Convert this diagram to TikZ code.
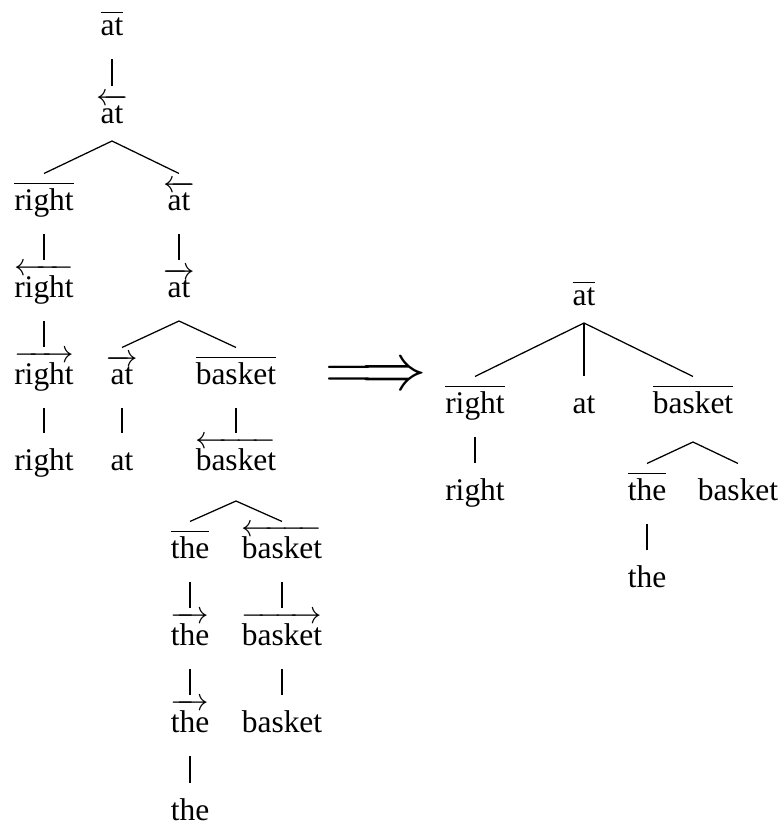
\documentclass[tikz,border=0pt]{standalone}
\usepackage{amsmath}
\usepackage[no-math]{fontspec}
\setmainfont{Liberation Serif}[Ligatures=TeX]
\usepackage{tikz}
\usetikzlibrary{calc}

\begin{document}
\begin{tikzpicture}[x=0.3175pt, y=-0.3175pt,
    word/.style={anchor=base, inner sep=2pt, text height=9.4pt, text depth=5.46pt,
      font=\rmfamily}]
  \useasboundingbox (0,0) rectangle (782,824);

  % linker Baum
  \node[word] (at0) at (112,35) {$\overline{\mbox{at}}$};
  \node[word] (at1) at (112,123) {$\overleftarrow{\mbox{at}}$};
  \node[word] (right1) at (44,210) {$\overline{\mbox{right}}$};
  \node[word] (at2) at (179,210) {$\overleftarrow{\mbox{at}}$};
  \node[word] (right2) at (44,297) {$\overleftarrow{\mbox{right}}$};
  \node[word] (at3) at (179,297) {$\overrightarrow{\mbox{at}}$};
  \node[word] (right3) at (44,384) {$\overrightarrow{\mbox{right}}$};
  \node[word] (at4) at (122,384) {$\overrightarrow{\mbox{at}}$};
  \node[word] (basket1) at (236,384) {$\overline{\mbox{basket}}$};
  \node[word] (right4) at (44,470) {right};
  \node[word] (at5) at (122,470) {at};
  \node[word] (basket2) at (236,470) {$\overleftarrow{\mbox{basket}}$};
  \node[word] (the1) at (190,558) {$\overline{\mbox{the}}$};
  \node[word] (basket3) at (282,558) {$\overleftarrow{\mbox{basket}}$};
  \node[word] (the2) at (190,645) {$\overrightarrow{\mbox{the}}$};
  \node[word] (basket4) at (282,645) {$\overrightarrow{\mbox{basket}}$};
  \node[word] (the3) at (190,732) {$\overrightarrow{\mbox{the}}$};
  \node[word] (basket5) at (282,732) {basket};
  \node[word] (the4) at (190,820) {the};

  \coordinate (j1) at (112,141);
  \coordinate (j2) at (179,321);
  \coordinate (j3) at (236,501);

  \draw (at0.south) -- (at1.north);
  \draw (right1.north) -- (j1) -- (at2.north);
  \draw (right1.south) -- (right2.north);
  \draw (at2.south) -- (at3.north);
  \draw (right2.south) -- (right3.north);
  \draw (at4.north) -- (j2) -- (basket1.north);
  \draw (right3.south) -- (right4.north);
  \draw (at4.south) -- (at5.north);
  \draw (basket1.south) -- (basket2.north);
  \draw (the1.north) -- (j3) -- (basket3.north);
  \draw (the1.south) -- (the2.north);
  \draw (basket3.south) -- (basket4.north);
  \draw (the2.south) -- (the3.north);
  \draw (basket4.south) -- (basket5.north);
  \draw (the3.south) -- (the4.north);

  % Pfeil
  \node (impl) at (376,378) {\fontsize{20.5}{22}\selectfont$\Longrightarrow$};

  % rechter Baum
  \node[word] (rat0) at (584,305) {$\overline{\mbox{at}}$};
  \node[word] (rright1) at (475,413) {$\overline{\mbox{right}}$};
  \node[word] (rat1) at (584,413) {at};
  \node[word] (rbasket1) at (693,413) {$\overline{\mbox{basket}}$};
  \node[word] (rright2) at (475,500) {right};
  \node[word] (rthe1) at (647,500) {$\overline{\mbox{the}}$};
  \node[word] (rbasket2) at (738,500) {basket};
  \node[word] (rthe2) at (647,587) {the};

  \coordinate (k1) at (584,323);
  \coordinate (k2) at (693,442);

  \draw (rright1.north) -- (k1) -- (rbasket1.north);
  \draw (k1) -- (rat1.north);
  \draw (rright1.south) -- (rright2.north);
  \draw (rthe1.north) -- (k2) -- (rbasket2.north);
  \draw (rthe1.south) -- (rthe2.north);
\end{tikzpicture}
\end{document}
